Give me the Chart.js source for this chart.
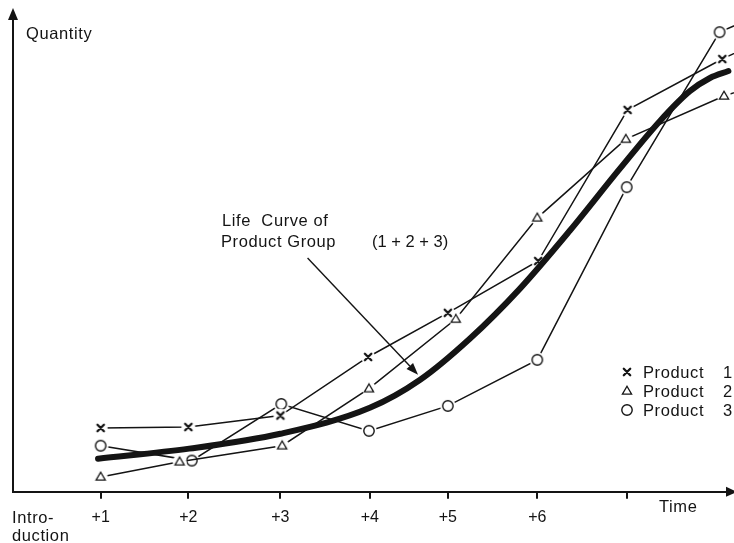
<!DOCTYPE html>
<html>
<head>
<meta charset="utf-8">
<title>Product life curves</title>
<style>
  html, body { margin: 0; padding: 0; background: #ffffff; }
  #wrap { width: 734px; height: 543px; position: relative; }
  canvas { display: block; }
</style>
<script src="https://cdn.jsdelivr.net/npm/chart.js@4.4.1/dist/chart.umd.min.js"></script>
</head>
<body>
<div id="wrap"><canvas id="chart" width="734" height="543"></canvas></div>
<script>
// Periods after introduction (x) and where each period tick is drawn
const periodTicks  = [1, 2, 3.05, 4.07, 4.96, 5.98, 7];
const periodLabels = ['+1', '+2', '+3', '+4', '+5', '+6', ''];

// Product 1 (x markers): time, quantity
const product1Time = [1.00, 2.00, 3.05, 4.05, 4.96, 5.99, 7.01, 8.09, 8.30];
const product1Qty  = [13.3, 13.5, 15.9, 28.1, 37.3, 48.1, 79.6, 90.2, 92.0];

// Product 2 (triangles)
const product2Time = [1.00, 1.90, 3.07, 4.06, 5.05, 5.98, 6.99, 8.11, 8.30];
const product2Qty  = [3.1, 6.25, 9.6, 21.5, 36.0, 57.1, 73.5, 82.5, 83.6];

// Product 3 (circles)
const product3Time = [1.00, 2.04, 3.06, 4.06, 4.96, 5.98, 7.00, 8.06, 8.30];
const product3Qty  = [9.6, 6.5, 18.3, 12.7, 17.9, 27.5, 63.5, 95.8, 97.7];

// Life curve of the product group (1+2+3)
const groupTime = [0.97, 2.01, 3.05, 4.07, 4.64, 5.21, 5.78, 6.35, 6.92, 7.38, 7.72, 7.95, 8.16];
const groupQty  = [6.9, 9.0, 12.1, 17.5, 23.3, 31.9, 42.3, 54.4, 67.3, 77.3, 83.5, 86.25, 87.7];

const seriesNames = ['Product', 'Product', 'Product'];
const seriesNumbers = ['1', '2', '3'];

const INK = '#141414';
const FONT = "'Liberation Sans', Arial, Helvetica, sans-serif";

const toPoints = (xs, ys) => xs.map((x, i) => ({ x: x, y: ys[i] }));

// Marker glyphs drawn on a small white disc so connecting lines stop short of them
function makeMarker(kind) {
  const s = 20, m = s / 2;
  const c = document.createElement('canvas');
  c.width = s; c.height = s;
  const g = c.getContext('2d');
  g.fillStyle = '#ffffff';
  g.beginPath();
  g.arc(m, m, kind === 'circle' ? 7.8 : 7, 0, Math.PI * 2);
  g.fill();
  g.strokeStyle = INK;
  g.lineCap = 'round';
  if (kind === 'cross') {
    g.lineWidth = 2.3;
    g.beginPath();
    g.moveTo(m - 3.2, m - 3.2); g.lineTo(m + 3.2, m + 3.2);
    g.moveTo(m - 3.2, m + 3.2); g.lineTo(m + 3.2, m - 3.2);
    g.stroke();
  } else if (kind === 'triangle') {
    g.lineWidth = 1.3;
    g.lineJoin = 'miter';
    g.beginPath();
    g.moveTo(m, m - 4.8);
    g.lineTo(m + 4.6, m + 3.2);
    g.lineTo(m - 4.6, m + 3.2);
    g.closePath();
    g.stroke();
  } else {
    g.lineWidth = 1.4;
    g.beginPath();
    g.arc(m, m, 5.2, 0, Math.PI * 2);
    g.stroke();
  }
  return c;
}

const markerCross = makeMarker('cross');
const markerTriangle = makeMarker('triangle');
const markerCircle = makeMarker('circle');

function productDataset(label, pts, marker, order) {
  return {
    label: label,
    data: pts,
    borderColor: INK,
    borderWidth: 1.5,
    tension: 0,
    pointStyle: marker,
    pointRadius: 5,
    pointHoverRadius: 5,
    order: order
  };
}

// Axis arrows, annotation and legend
const decorations = {
  id: 'decorations',
  afterDraw(chart) {
    const ctx = chart.ctx;
    const a = chart.chartArea;
    const xs = chart.scales.x, ys = chart.scales.y;
    ctx.save();
    ctx.fillStyle = INK;
    ctx.strokeStyle = INK;

    // y-axis arrowhead
    ctx.beginPath();
    ctx.moveTo(a.left, a.top - 4);
    ctx.lineTo(a.left + 5, a.top + 8);
    ctx.lineTo(a.left - 5, a.top + 8);
    ctx.closePath();
    ctx.fill();

    // x-axis arrowhead
    ctx.beginPath();
    ctx.moveTo(a.right + 3, a.bottom);
    ctx.lineTo(a.right - 8, a.bottom - 5);
    ctx.lineTo(a.right - 8, a.bottom + 5);
    ctx.closePath();
    ctx.fill();

    ctx.font = '16.5px ' + FONT;
    ctx.textBaseline = 'alphabetic';
    ctx.textAlign = 'left';
    try { ctx.letterSpacing = '0.6px'; } catch (e) {}

    // axis titles
    ctx.fillText('Quantity', a.left + 13, a.top + 27);
    ctx.fillText('Time', 659, a.bottom + 20);
    ctx.fillText('Intro-', 12, a.bottom + 31);
    ctx.fillText('duction', 12, a.bottom + 49);

    // annotation
    ctx.fillText('Life  Curve of', 222, 226);
    ctx.fillText('Product Group', 221, 247);
    try { ctx.letterSpacing = '0px'; } catch (e) {}
    ctx.fillText('(1 + 2 + 3)', 372, 247);

    // pointer arrow to the group curve
    const x0 = xs.getPixelForValue(3.36), y0 = ys.getPixelForValue(48.75);
    const x1 = xs.getPixelForValue(4.62), y1 = ys.getPixelForValue(24.4);
    const ang = Math.atan2(y1 - y0, x1 - x0);
    const hl = 12, hw = 4.5;
    const bx = x1 - hl * Math.cos(ang), by = y1 - hl * Math.sin(ang);
    ctx.lineWidth = 1.4;
    ctx.beginPath();
    ctx.moveTo(x0, y0);
    ctx.lineTo(bx, by);
    ctx.stroke();
    ctx.beginPath();
    ctx.moveTo(x1, y1);
    ctx.lineTo(bx + hw * Math.sin(ang), by - hw * Math.cos(ang));
    ctx.lineTo(bx - hw * Math.sin(ang), by + hw * Math.cos(ang));
    ctx.closePath();
    ctx.fill();

    // legend
    const markers = [markerCross, markerTriangle, markerCircle];
    const rows = [372, 391, 410];
    try { ctx.letterSpacing = '0.6px'; } catch (e) {}
    ctx.textBaseline = 'middle';
    for (let i = 0; i < 3; i++) {
      ctx.drawImage(markers[i], 627 - markers[i].width / 2, rows[i] - markers[i].height / 2);
      ctx.fillText(seriesNames[i], 643, rows[i] + 1);
      ctx.fillText(seriesNumbers[i], 723, rows[i] + 1);
    }
    ctx.restore();
  }
};

new Chart(document.getElementById('chart'), {
  type: 'line',
  data: {
    datasets: [
      {
        label: 'Life Curve of Product Group (1+2+3)',
        data: toPoints(groupTime, groupQty),
        borderColor: INK,
        borderWidth: 6,
        borderCapStyle: 'round',
        cubicInterpolationMode: 'monotone',
        pointRadius: 0,
        pointHoverRadius: 0,
        order: 0
      },
      productDataset('Product 1', toPoints(product1Time, product1Qty), markerCross, 1),
      productDataset('Product 2', toPoints(product2Time, product2Qty), markerTriangle, 2),
      productDataset('Product 3', toPoints(product3Time, product3Qty), markerCircle, 3)
    ]
  },
  options: {
    responsive: false,
    animation: false,
    events: [],
    layout: { autoPadding: false, padding: { left: 13, top: 12, right: 0, bottom: 7 } },
    plugins: {
      legend: { display: false },
      tooltip: { enabled: false },
      title: { display: false }
    },
    scales: {
      x: {
        type: 'linear',
        min: 0,
        max: 8.224,
        afterBuildTicks(axis) {
          axis.ticks = periodTicks.map(v => ({ value: v }));
        },
        ticks: {
          autoSkip: false,
          maxRotation: 0,
          padding: 9,
          color: INK,
          font: { family: FONT, size: 16 },
          callback: (value, index) => periodLabels[index]
        },
        grid: {
          drawOnChartArea: false,
          drawTicks: true,
          tickLength: 7,
          color: INK,
          lineWidth: 2
        },
        border: { display: true, color: INK, width: 2 }
      },
      y: {
        type: 'linear',
        min: 0,
        max: 100,
        ticks: { display: false },
        grid: { display: false, drawTicks: false },
        border: { display: true, color: INK, width: 2 }
      }
    }
  },
  plugins: [decorations]
});
</script>
</body>
</html>
